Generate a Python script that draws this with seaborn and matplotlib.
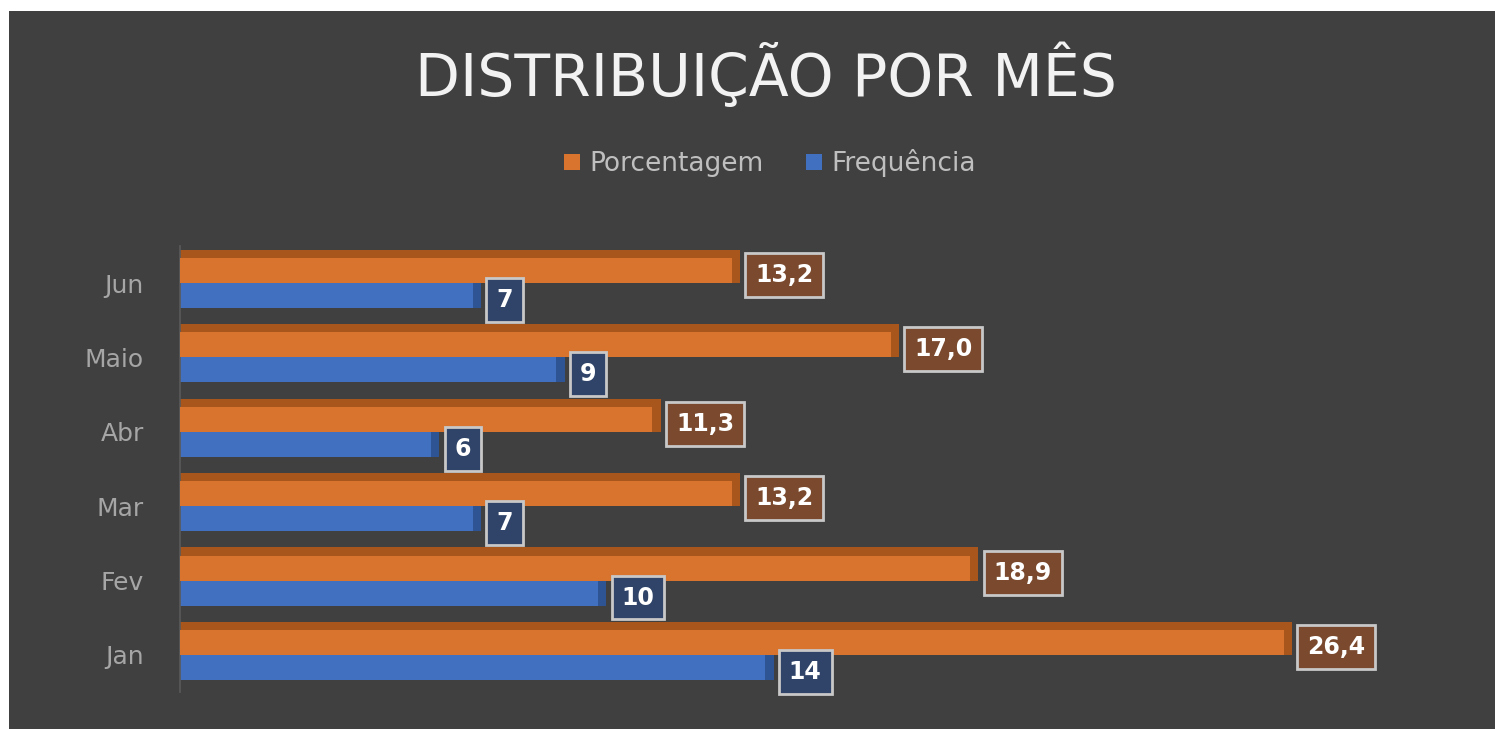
import numpy as np
import pandas as pd
import seaborn as sns
import matplotlib.pyplot as plt
from matplotlib.patches import Rectangle

meses = ["Jun", "Maio", "Abr", "Mar", "Fev", "Jan"]
porcentagem = [13.2, 17.0, 11.3, 13.2, 18.9, 26.4]
frequencia = [7, 9, 6, 7, 10, 14]
series = ["Porcentagem", "Frequência"]

cores = {"Porcentagem": "#d9742f", "Frequência": "#4170c0"}
cores_lado = {"Porcentagem": "#a9561d", "Frequência": "#2e5494"}
cores_caixa = {"Porcentagem": "#7b4a2e", "Frequência": "#2f4468"}

df = pd.DataFrame({
    "mes": meses * 2,
    "valor": porcentagem + frequencia,
    "serie": [series[0]] * len(meses) + [series[1]] * len(meses),
})

fig = plt.figure(figsize=(14.95, 7.29), dpi=100, facecolor="white")
fig.patches.append(Rectangle((9 / 1495, 0), 1, 1 - 11 / 729, transform=fig.transFigure,
                             facecolor="#404040", edgecolor="none", zorder=-5))

ax = fig.add_axes([0.1204, 0.0505, 0.8388, 0.6123])
ax.set_facecolor("none")
ax.set_zorder(2)

sns.barplot(data=df, y="mes", x="valor", hue="serie", hue_order=series, order=meses,
            orient="h", palette=cores, width=0.67, saturation=1, ax=ax, zorder=2,
            legend=False)

ax.set_xlim(0, 30)
ax.set_ylim(5.5, -0.5)

# fake 3D: darker face behind each bar, peeking out on top and right side
dx = 0.2
dy = 0.11
for container, nome in zip(ax.containers, series):
    for bar, v in zip(container, container.datavalues):
        y0 = bar.get_y()
        h = bar.get_height()
        ax.add_patch(Rectangle((0, y0 - dy), bar.get_width() + dx, h + dy,
                               facecolor=cores_lado[nome], edgecolor="none", zorder=1))
        bar.set_zorder(3 if nome == "Porcentagem" else 2)
        txt = f"{v:.1f}".replace(".", ",") if nome == "Porcentagem" else f"{int(v)}"
        ax.annotate(txt, xy=(bar.get_width() + dx, y0 + h / 2 + 0.06), xytext=(11, 0),
                    textcoords="offset points", ha="left", va="center",
                    fontsize=17, fontweight="bold", color="white", family="DejaVu Sans",
                    zorder=5,
                    bbox=dict(boxstyle="square,pad=0.42", facecolor=cores_caixa[nome],
                              edgecolor="#c8c8c8", linewidth=2))

for s in ["top", "right", "bottom"]:
    ax.spines[s].set_visible(False)
ax.spines["left"].set_color("#5a5a5a")
ax.spines["left"].set_linewidth(1.2)
ax.set_xticks([])
ax.set_xlabel("")
ax.set_ylabel("")
ax.tick_params(axis="y", length=0, pad=26, labelsize=18, labelcolor="#a6a6a6")
for lb in ax.get_yticklabels():
    lb.set_family("DejaVu Sans")

fig.text(0.512, 0.897, "DISTRIBUIÇÃO POR MÊS", ha="center", va="center",
         fontsize=42, color="#f2f2f2", family="DejaVu Sans")

handles = [Rectangle((0, 0), 1, 1, facecolor=cores[s]) for s in series]
fig.legend(handles, series, loc="center", bbox_to_anchor=(0.515, 0.776), ncol=2,
           frameon=False, handlelength=0.6, handleheight=0.6, handletextpad=0.35,
           columnspacing=1.6, prop={"family": "DejaVu Sans", "size": 19},
           labelcolor="#bfbfbf")

fig.savefig("out.png", dpi=100, facecolor=fig.get_facecolor())
